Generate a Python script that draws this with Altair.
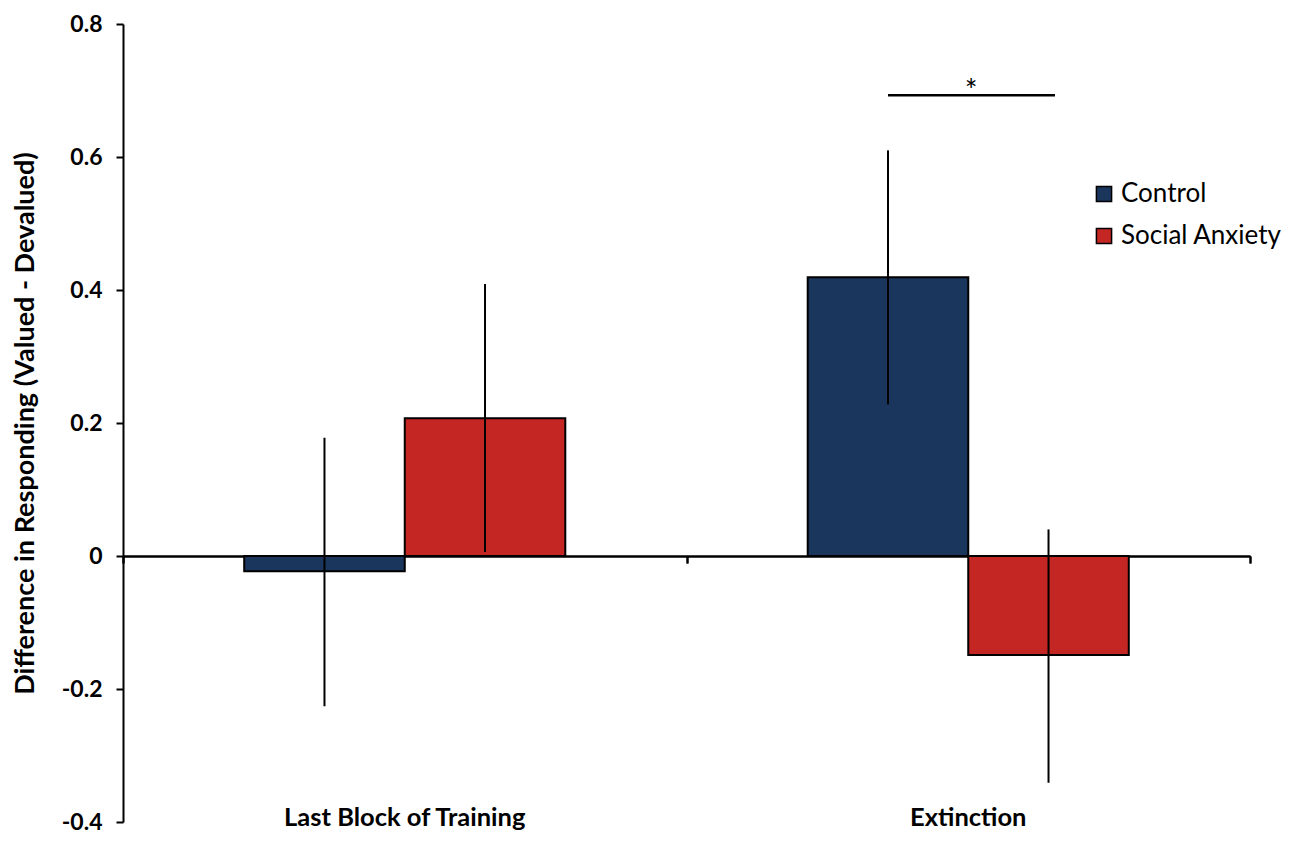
import altair as alt
import pandas as pd

categories = ["Last Block of Training", "Extinction"]
groups = ["Control", "Social Anxiety"]
colors = ["#1B365D", "#C42623"]

cat_col = ["Last Block of Training", "Last Block of Training", "Extinction", "Extinction"]
grp_col = ["Control", "Social Anxiety", "Control", "Social Anxiety"]
means = [-0.023, 0.207, 0.419, -0.149]
err_hi = [0.178, 0.409, 0.610, 0.040]
err_lo = [-0.226, 0.006, 0.228, -0.341]

sig_y = [0.693]
sig_label = ["*"]

df = pd.DataFrame({"Category": cat_col, "Group": grp_col, "Mean": means,
                   "Hi": err_hi, "Lo": err_lo})
sig = pd.DataFrame({"y": sig_y, "label": sig_label})

W, H = 1127, 798
FONT = "Lato"

yscale = alt.Scale(domain=[-0.4, 0.8], nice=False, zero=False)
xscale = alt.Scale(domain=categories, paddingInner=0, paddingOuter=0)
xoff = alt.XOffset("Group:N", sort=groups,
                   scale=alt.Scale(domain=groups, paddingOuter=0.755, paddingInner=0))

yaxis = alt.Axis(values=[-0.4, -0.2, 0, 0.2, 0.4, 0.6, 0.8],
                 labelExpr="datum.value == 0 ? '0' : replace(format(datum.value, '.1f'), '\u2212', '-')",
                 title="Difference in Responding (Valued - Devalued)",
                 titleFontSize=27, titleFont=FONT, titleFontWeight="bold", titleColor="black",
                 titlePadding=22,
                 labelFont=FONT, labelFontSize=23, labelFontWeight="bold", labelColor="black",
                 labelPadding=14, grid=False,
                 domainColor="black", domainWidth=2, tickColor="black", tickWidth=2, tickSize=7)

zero_axis = alt.Axis(orient="bottom", offset=-H / 3, title=None, labels=False,
                     domainColor="black", domainWidth=2, ticks=True, tickBand="extent",
                     tickColor="black", tickWidth=2, tickSize=7, grid=False)

bars = alt.Chart(df).mark_bar(stroke="black", strokeWidth=2).encode(
    x=alt.X("Category:N", sort=categories, scale=xscale, axis=zero_axis),
    xOffset=xoff,
    y=alt.Y("Mean:Q", scale=yscale, axis=yaxis),
    color=alt.Color("Group:N", sort=groups,
                    scale=alt.Scale(domain=groups, range=colors),
                    legend=alt.Legend(title=None, orient="none", legendX=968, legendY=157,
                                      symbolType="square", symbolSize=230,
                                      symbolStrokeColor="black", symbolStrokeWidth=1.5,
                                      labelFont=FONT, labelFontSize=26, labelColor="black",
                                      labelOffset=4, rowPadding=16, labelLimit=0)),
)

errs = alt.Chart(df).mark_rule(color="black", strokeWidth=2).encode(
    x=alt.X("Category:N", sort=categories, scale=xscale, axis=zero_axis),
    xOffset=xoff,
    y=alt.Y("Hi:Q", scale=yscale, axis=yaxis),
    y2="Lo:Q",
)

label_axis = alt.Axis(orient="bottom", title=None, domain=False, ticks=False,
                      labelAngle=0, labelFont=FONT, labelFontSize=25.5, labelFontWeight="bold",
                      labelColor="black", labelPadding=-17, labelBaseline="top", grid=False,
                      labelLimit=0)

labels_layer = alt.Chart(df).mark_point(opacity=0).encode(
    x=alt.X("Category:N", sort=categories, scale=xscale, axis=label_axis),
    y=alt.Y("Mean:Q", scale=yscale, axis=yaxis),
)

sig_rule = alt.Chart(sig).mark_rule(color="black", strokeWidth=2.5).encode(
    y=alt.Y("y:Q", scale=yscale, axis=yaxis),
    x=alt.value(765), x2=alt.value(932),
)
sig_text = alt.Chart(sig).mark_text(fontSize=30, font=FONT, color="black", dy=-3,
                                    baseline="middle").encode(
    y=alt.Y("y:Q", scale=yscale, axis=yaxis),
    x=alt.value(848),
    text="label:N",
)

chart = alt.layer(bars, errs, sig_rule, sig_text, labels_layer).resolve_axis(
    x="independent"
).properties(
    width=W, height=H,
    background="white",
    autosize=alt.AutoSizeParams(type="none"),
    padding={"left": 115, "top": 16, "right": 38, "bottom": 13},
).configure_view(stroke=None)

chart.save("out.html", embed_options={"renderer": "svg", "actions": False})
